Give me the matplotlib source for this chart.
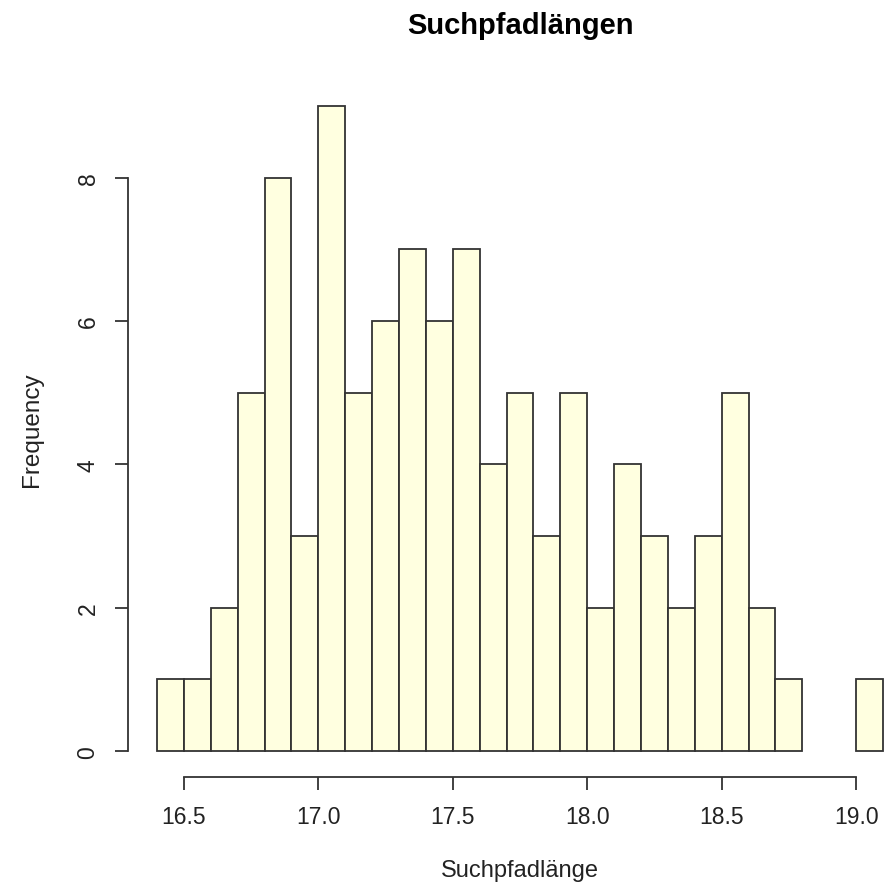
import matplotlib
matplotlib.use("Agg")
import matplotlib.pyplot as plt
import numpy as np

plt.rcParams['font.family'] = ['Liberation Sans', 'DejaVu Sans']

# bin edges start and width, counts
bin_start = 16.4
bin_width = 0.1
counts = [1, 1, 2, 5, 8, 3, 9, 5, 6, 7, 6, 7, 4, 5, 3, 5, 2, 4, 3, 2, 3, 5, 2, 1, 0, 0, 1]
x_ticks = [16.5, 17.0, 17.5, 18.0, 18.5, 19.0]
x_ticklabels = ["16.5", "17.0", "17.5", "18.0", "18.5", "19.0"]
y_ticks = [0, 2, 4, 6, 8]

counts = np.array(counts)
lefts = bin_start + bin_width * np.arange(len(counts))

fig = plt.figure(figsize=(8.94, 8.95), dpi=100)
# plot region runs past the right edge of the picture, like the cropped original
ax = fig.add_axes([128 / 894, (895 - 778) / 895, 784 / 894, 697 / 895])

mask = counts > 0
ax.bar(lefts[mask], counts[mask], width=bin_width, align='edge',
       color='#FFFFE0', edgecolor='#333333', linewidth=1.3)

span = lefts[-1] + bin_width - bin_start
ax.set_xlim(bin_start - 0.04 * span, lefts[-1] + bin_width + 0.04 * span)
ax.set_ylim(-0.04 * counts.max(), counts.max() * 1.04)

for s in ['top', 'right']:
    ax.spines[s].set_visible(False)
ax.spines['left'].set_bounds(0, 8)
ax.spines['bottom'].set_bounds(16.5, 19.0)
for s in ['left', 'bottom']:
    ax.spines[s].set_color('#333333')
    ax.spines[s].set_linewidth(1.3)

ax.set_xticks(x_ticks)
ax.set_xticklabels(x_ticklabels)
ax.set_yticks(y_ticks)
ax.set_yticklabels([str(v) for v in y_ticks], rotation=90, va='center')
ax.tick_params(axis='both', length=9.5, width=1.3, color='#333333',
               labelsize=16.5, labelcolor='#222222', pad=11)

ax.set_title('Suchpfadlängen', fontsize=21, fontweight='bold', pad=34)
ax.set_xlabel('Suchpfadlänge', fontsize=17, labelpad=22, color='#222222')
ax.set_ylabel('Frequency', fontsize=17.5, labelpad=24, color='#222222')

fig.savefig('out.png', dpi=100)
